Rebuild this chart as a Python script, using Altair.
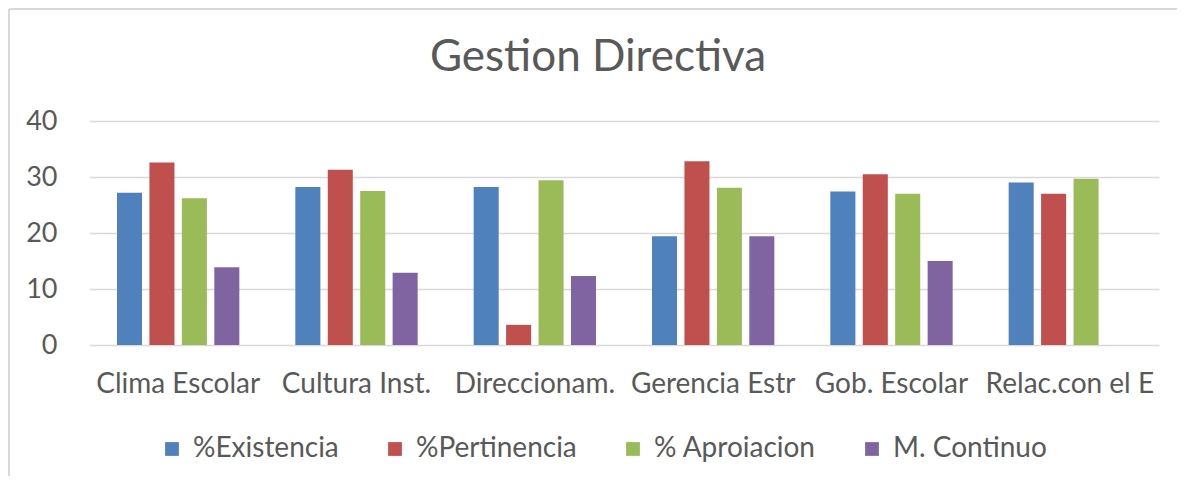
import altair as alt
import pandas as pd

categories = ["Clima Escolar", "Cultura Inst.", "Direccionam.", "Gerencia Estr", "Gob. Escolar", "Relac.con el E"]
series = ["%Existencia", "%Pertinencia", "% Aproiacion", "M. Continuo"]
existencia = [27.2, 28.2, 28.2, 19.4, 27.4, 29.0]
pertinencia = [32.6, 31.3, 3.6, 32.8, 30.5, 27.0]
aproiacion = [26.2, 27.5, 29.4, 28.1, 27.0, 29.7]
continuo = [13.9, 12.9, 12.3, 19.4, 15.0, None]
colors = ["#4f81bd", "#c0504d", "#9bbb59", "#8064a2"]
y_ticks = [0, 10, 20, 30, 40]
chart_title = "Gestion Directiva"

rows = []
for s, vals in zip(series, [existencia, pertinencia, aproiacion, continuo]):
    for c, v in zip(categories, vals):
        if v is not None:
            rows.append({"cat": c, "serie": s, "valor": v})
df = pd.DataFrame(rows)
one = pd.DataFrame({"t": [chart_title]})

FONT = "Lato"
TXT = "#595959"

bars = alt.Chart(df).mark_bar().encode(
    x=alt.X("cat:N", sort=categories, title=None,
            scale=alt.Scale(paddingInner=0.314, paddingOuter=0.157),
            axis=alt.Axis(labelAngle=0, ticks=False, domain=False, labelPadding=25,
                          labelFontSize=28, labelColor=TXT, labelFont=FONT, grid=False,
                          labelLimit=300)),
    xOffset=alt.XOffset("serie:N", sort=series, scale=alt.Scale(paddingInner=0.228)),
    y=alt.Y("valor:Q", title=None,
            scale=alt.Scale(domain=[0, 40], nice=False),
            axis=alt.Axis(values=y_ticks, ticks=False, domain=False, labelPadding=32,
                          labelFontSize=27, labelColor=TXT, labelFont=FONT,
                          gridColor="#d9d9d9", gridWidth=1.5)),
    color=alt.Color("serie:N", sort=series,
                    scale=alt.Scale(domain=series, range=colors),
                    legend=alt.Legend(title=None, orient="none", direction="horizontal",
                                      legendX=69, legendY=314, symbolType="square",
                                      symbolSize=190, symbolStrokeWidth=0,
                                      labelFontSize=28, labelColor=TXT, labelFont=FONT,
                                      labelOffset=7, columnPadding=42, labelLimit=300)),
)

title_mark = alt.Chart(one).mark_text(font=FONT, fontSize=44, color=TXT,
                                      align="center", baseline="middle").encode(
    text="t:N", x=alt.value(509), y=alt.value(-63))

frame_top = alt.Chart(one).mark_rule(color="#d9d9d9", strokeWidth=2).encode(
    x=alt.value(-80), x2=alt.value(1088), y=alt.value(-112))
frame_left = alt.Chart(one).mark_rule(color="#d9d9d9", strokeWidth=2).encode(
    x=alt.value(-80), y=alt.value(-112), y2=alt.value(355))

chart = alt.layer(frame_top, frame_left, title_mark, bars).properties(
    width=1070, height=224, padding=0,
    background="white",
).configure_view(stroke=None)

chart.save("out.html", embed_options={"renderer": "svg", "actions": False})
